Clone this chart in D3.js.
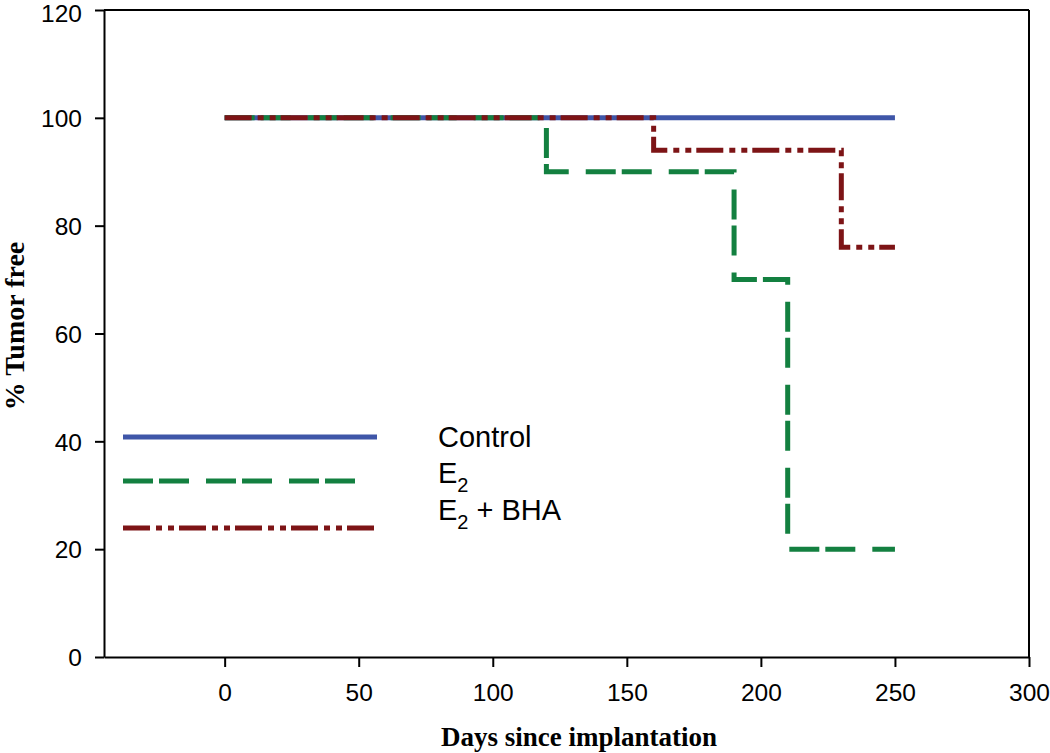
<!DOCTYPE html>
<html><head><meta charset="utf-8">
<script src="https://cdn.jsdelivr.net/npm/d3@7"></script>
<style>body{margin:0;background:#fff}svg{display:block}</style>
</head><body><svg id="c" width="1050" height="753"></svg>
<script>
const seriesNames = ["Control", "E2", "E2 + BHA"];
const controlDays = [0, 250];
const controlPct = [100, 100];
const e2Days = [0, 120, 190, 210, 250];
const e2Pct = [100, 90, 70, 20, 20];
const bhaDays = [0, 160, 230, 250];
const bhaPct = [100, 94, 76, 76];
const xTicks = [0, 50, 100, 150, 200, 250, 300];
const yTicks = [0, 20, 40, 60, 80, 100, 120];

const colors = ["#3F56A8", "#138040", "#7D1416"];
const dashes = [null, "30,6,30,17", "27,6,6,6,6,5"];

const svg = d3.select("#c");
const x = d3.scaleLinear().domain([-45, 300]).range([104, 1029]);
const y = d3.scaleLinear().domain([0, 120]).range([657, 10]);

const font = "'Liberation Sans', Arial, Helvetica, sans-serif";
const serif = "'Liberation Serif', 'Times New Roman', serif";

// axes
const xAxis = svg.append("g").attr("transform", "translate(0,657)")
  .call(d3.axisBottom(x).tickValues(xTicks).tickSize(10).tickPadding(17).tickSizeOuter(0));
const yAxis = svg.append("g").attr("transform", "translate(104,0)")
  .call(d3.axisLeft(y).tickValues(yTicks).tickSize(9).tickPadding(13).tickSizeOuter(0));
[xAxis, yAxis].forEach(a => {
  a.selectAll("path").attr("stroke", "#000").attr("stroke-width", 2);
  a.selectAll("line").attr("stroke", "#000").attr("stroke-width", 2);
  a.selectAll("text").attr("font-family", font).attr("font-size", 24.5).attr("fill", "#000");
});
yAxis.selectAll("text").attr("dy", d => d === 120 ? "0.45em" : "0.36em");
// box top/right
svg.append("line").attr("x1", x(-45)).attr("x2", x(300)).attr("y1", y(120)).attr("y2", y(120))
  .attr("stroke", "#000").attr("stroke-width", 2);
svg.append("line").attr("x1", x(300)).attr("x2", x(300)).attr("y1", y(120)).attr("y2", y(0))
  .attr("stroke", "#000").attr("stroke-width", 2);

// series
const line = d3.line().x(d => x(d[0])).y(d => y(d[1])).curve(d3.curveStepAfter);
const series = [
  d3.zip(controlDays, controlPct),
  d3.zip(e2Days, e2Pct),
  d3.zip(bhaDays, bhaPct)
];
series.forEach((s, i) => {
  svg.append("path").attr("d", line(s)).attr("fill", "none")
    .attr("stroke", colors[i]).attr("stroke-width", 5)
    .attr("stroke-dasharray", dashes[i]);
});

// legend
const legY = [437, 481, 528];
const legX2 = [377, 355, 374];
const textY = [447, 483, 520];
seriesNames.forEach((n, i) => {
  svg.append("line").attr("x1", 123).attr("x2", legX2[i]).attr("y1", legY[i]).attr("y2", legY[i])
    .attr("stroke", colors[i]).attr("stroke-width", 5).attr("stroke-dasharray", dashes[i]);
  const t = svg.append("text").attr("x", 438).attr("y", textY[i])
    .attr("font-family", font).attr("font-size", 29).attr("fill", "#000");
  if (n === "Control") t.text(n);
  else {
    t.append("tspan").text("E");
    t.append("tspan").text("2").attr("font-size", 20).attr("dy", 9);
    if (n.length > 2) t.append("tspan").text(" + BHA").attr("dy", -9);
  }
});

// axis titles
svg.append("text").attr("x", 579).attr("y", 746).attr("text-anchor", "middle")
  .attr("font-family", serif).attr("font-weight", "bold").attr("font-size", 27)
  .text("Days since implantation");
svg.append("text").attr("transform", "translate(24,326) rotate(-90)").attr("text-anchor", "middle")
  .attr("font-family", serif).attr("font-weight", "bold").attr("font-size", 28)
  .text("% Tumor free");
</script></body></html>
